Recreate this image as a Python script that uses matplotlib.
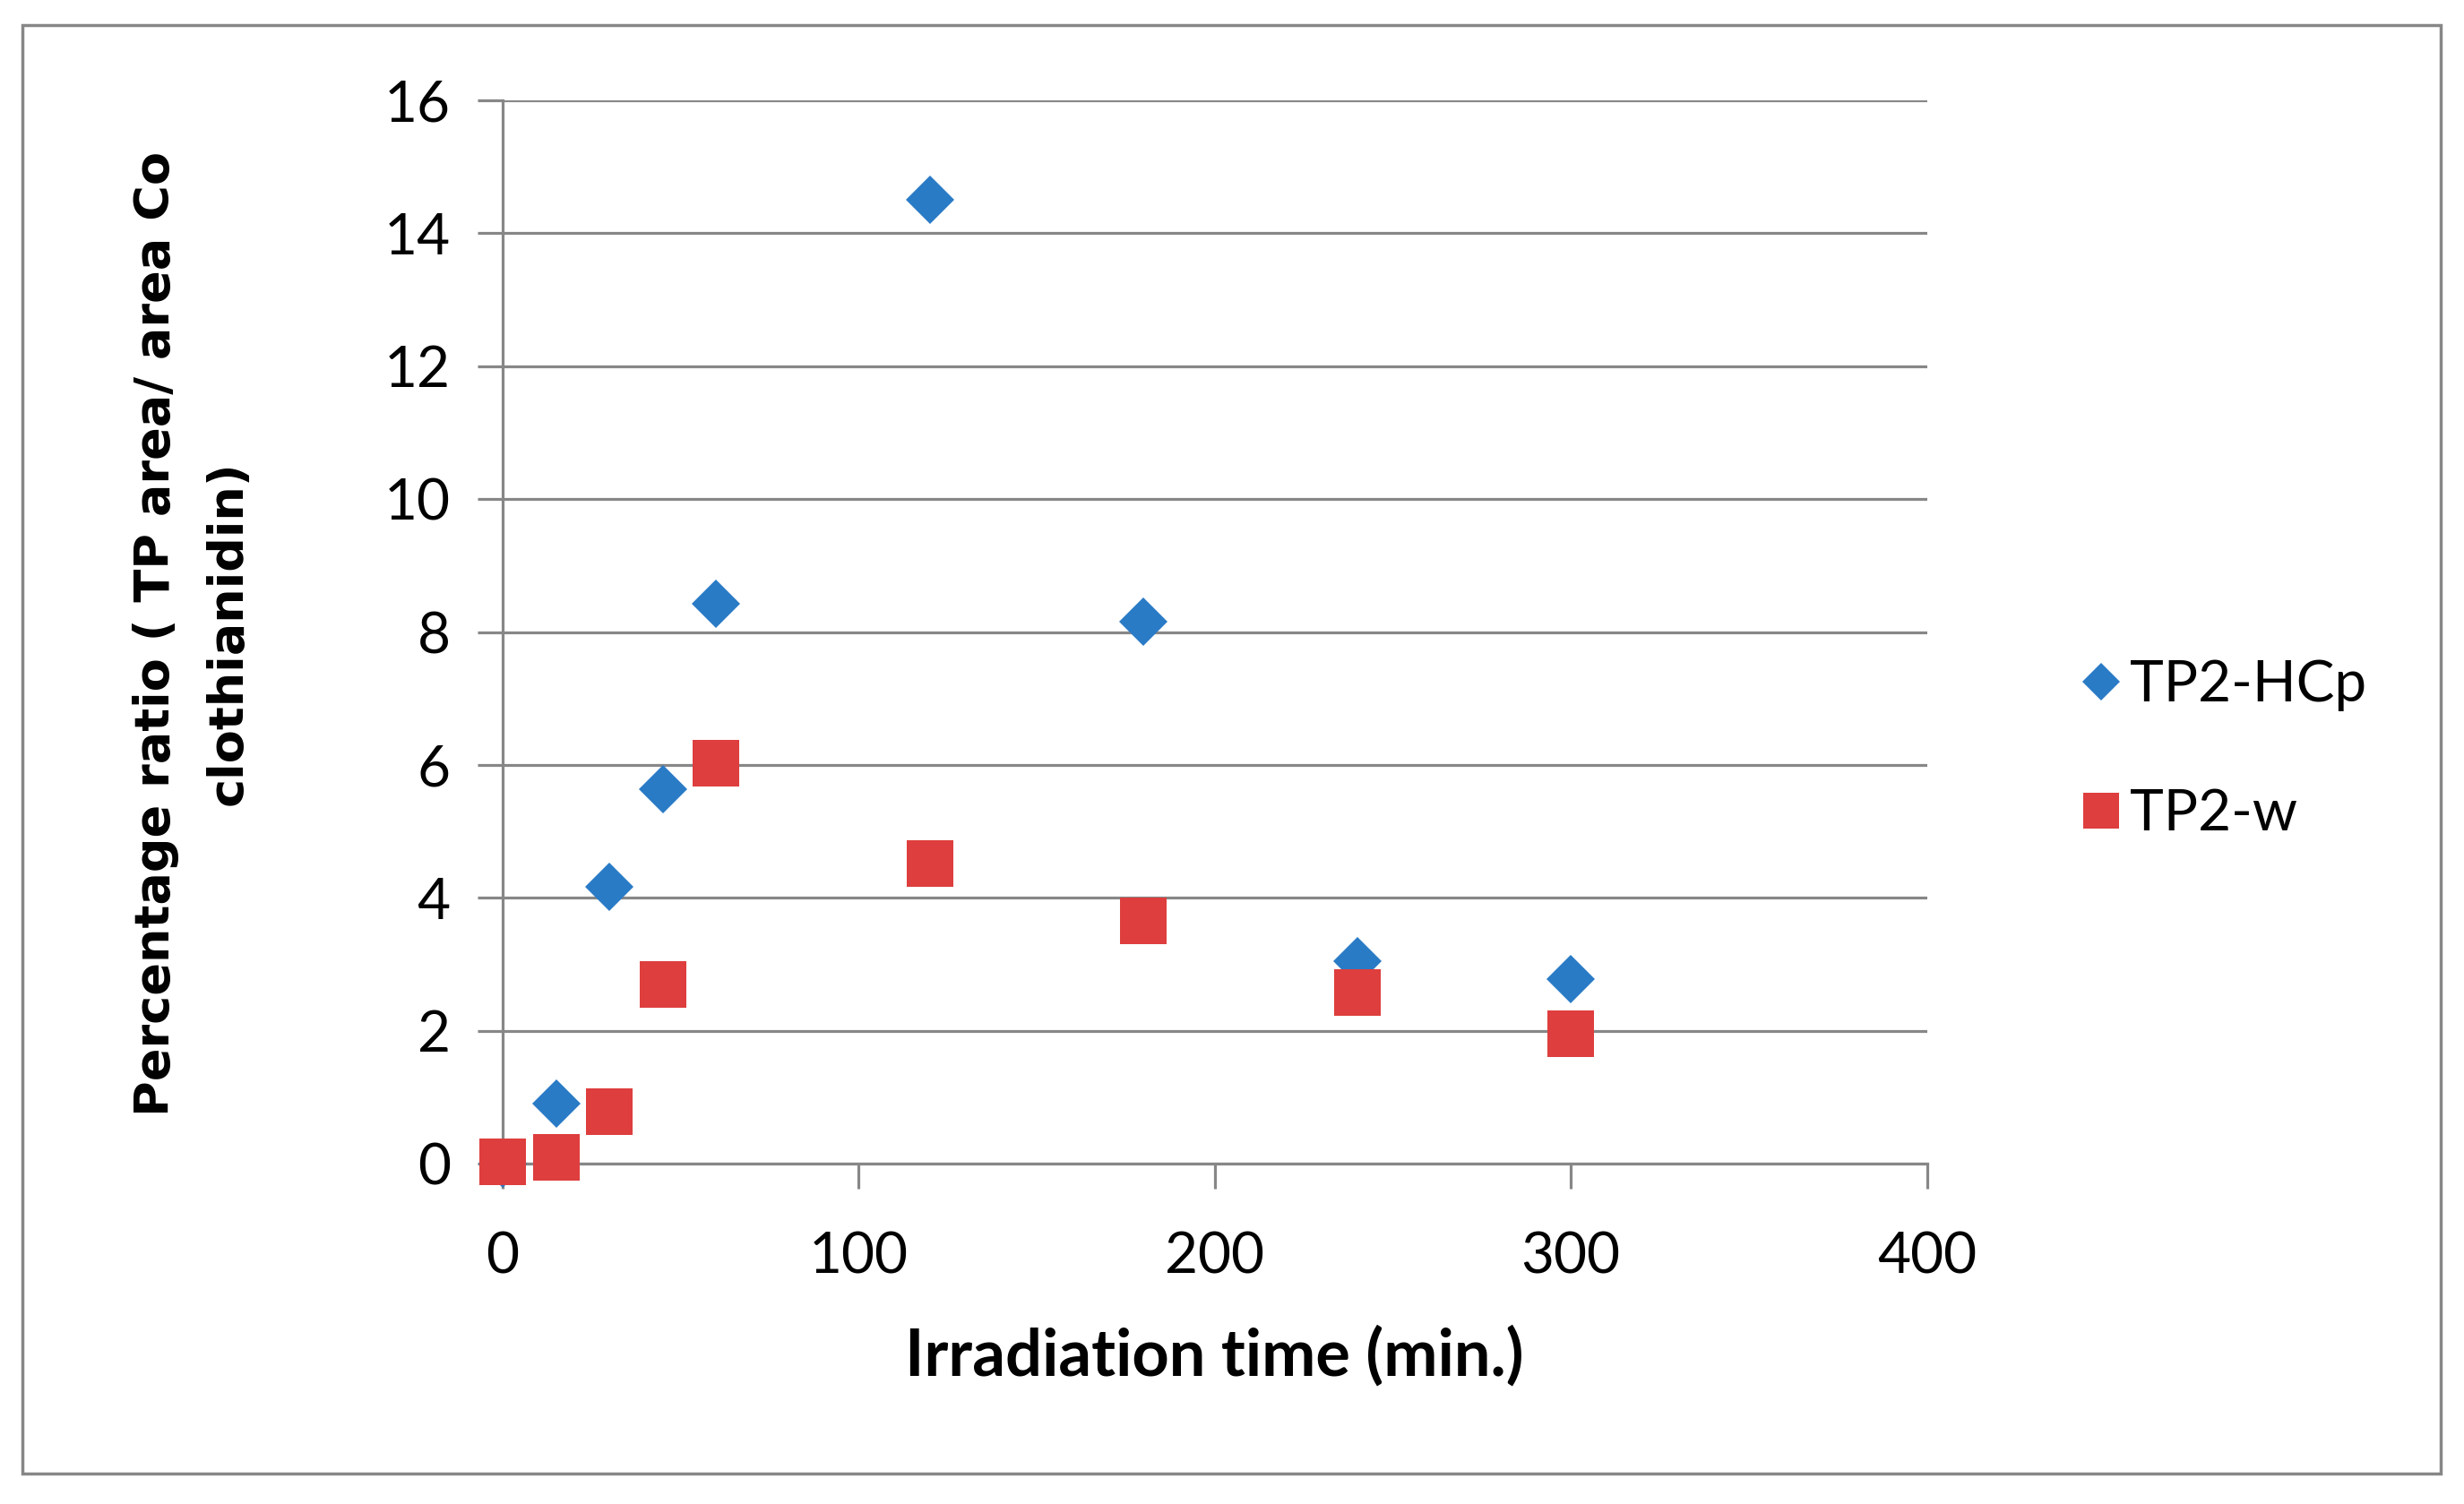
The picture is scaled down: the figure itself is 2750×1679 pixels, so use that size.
import numpy as np
import matplotlib
matplotlib.use('Agg')
import matplotlib.pyplot as plt
from matplotlib.patches import Rectangle

# irradiation time (min.) and percentage ratio
t_hcp = [0, 15, 30, 45, 60, 120, 180, 240, 300]
y_hcp = [0.0, 0.9, 4.17, 5.63, 8.42, 14.5, 8.16, 3.05, 2.78]

t_w = [0, 15, 30, 45, 60, 120, 180, 240, 300]
y_w = [0.03, 0.09, 0.78, 2.69, 6.02, 4.52, 3.65, 2.57, 1.96]

xticks = [0, 100, 200, 300, 400]
yticks = [0, 2, 4, 6, 8, 10, 12, 14, 16]

blue = '#2A7BC6'
red = '#DE3E3E'
grey = '#878787'

fig = plt.figure(figsize=(27.5, 16.79), dpi=100)
ax = fig.add_axes([0.204, 0.2263, 0.578, 0.707])

# outer frame of the chart area
fig.patches.append(Rectangle((25/2750, 34/1679), 2699/2750, 1617/1679,
                             transform=fig.transFigure, fill=False,
                             edgecolor=grey, lw=2.5))

ax.plot(t_hcp, y_hcp, 'D', color=blue, ms=28, mew=0, clip_on=False,
        zorder=3, label='TP2-HCp')
ax.plot(t_w, y_w, 's', color=red, ms=38, mew=0, clip_on=False,
        zorder=4, label='TP2-w')

ax.set_xlim(0, 400)
ax.set_ylim(0, 16)
ax.set_xticks(xticks)
ax.set_yticks(yticks)
ax.yaxis.grid(True, color=grey, lw=2.3)
ax.set_axisbelow(True)
for s in ['top', 'right']:
    ax.spines[s].set_visible(False)
for s in ['left', 'bottom']:
    ax.spines[s].set_color(grey)
    ax.spines[s].set_linewidth(2.3)
ax.tick_params(axis='both', direction='out', length=20, width=2.3,
               color=grey, labelsize=46)
ax.tick_params(axis='x', pad=34)
ax.tick_params(axis='y', pad=22)
for lab in ax.get_xticklabels() + ax.get_yticklabels():
    lab.set_family('Lato')

ax.set_xlabel('Irradiation time (min.)', family='Lato', fontweight='bold',
              fontsize=52, labelpad=34)

# two-line y label, placed by hand like the original
fig.text(214/2750, 1 - 707/1679,
         'Percentage ratio ( TP area/ area Co\nclothianidin)',
         family='DejaVu Sans', fontweight='bold', fontsize=39,
         rotation=90, ha='center', va='center', multialignment='center',
         linespacing=1.7)

leg = ax.legend(loc='center left', bbox_to_anchor=(1.066, 0.389),
                frameon=False, handlelength=1.0, handletextpad=0.0,
                labelspacing=1.35, markerscale=0.75,
                prop={'family': 'Lato', 'size': 46})

plt.savefig('out.png', dpi=100)
